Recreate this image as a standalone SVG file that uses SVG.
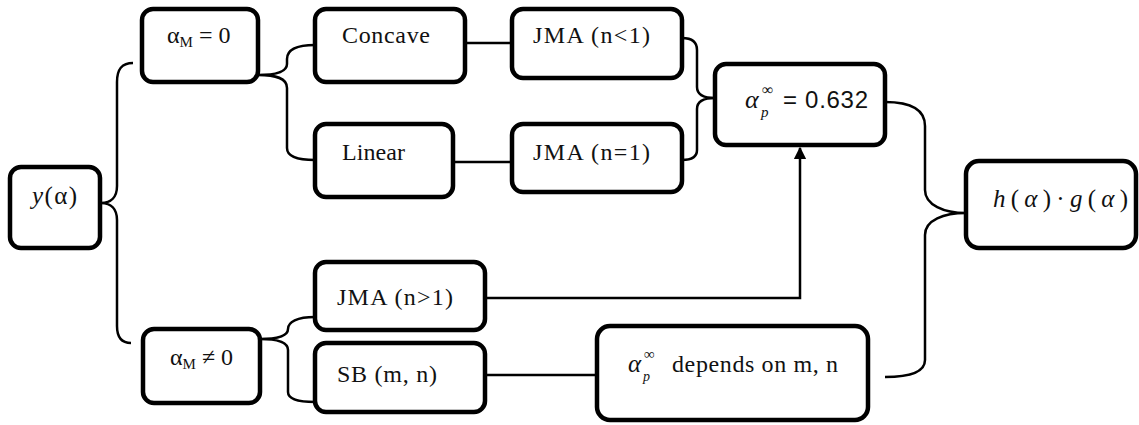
<svg xmlns="http://www.w3.org/2000/svg" width="1139" height="425" viewBox="0 0 1139 425">
<style>
.box{fill:#fff;stroke:#000;stroke-width:4.5}
.c{fill:none;stroke:#000;stroke-width:2.5}
.t{font-family:"Liberation Serif","DejaVu Serif","Times New Roman",serif;fill:#111}
.sans{font-family:"Liberation Sans",Arial,sans-serif}
.it{font-style:italic}
</style>
<defs>
<marker id="ah" viewBox="0 0 10 10" refX="9" refY="5" markerWidth="5" markerHeight="5" orient="auto" markerUnits="strokeWidth">
<path d="M0,0 L10,5 L0,10 z" fill="#000"/>
</marker>
</defs>
<rect width="1139" height="425" fill="#fff"/>
<g id="connectors">
<path class="c" d="M133,63 C121,63 117,70 117,82 L117,186 C117,197 111,203 101,203 C111,203 117,209 117,220 L117,326 C117,337 122,343 131,343"/>
<path class="c" d="M315,45 C296,45 287,50 287,59 L287,64 C287,72 276,75 258,75 C276,75 287,78 287,88 L287,148 C287,156 296,160 315,160"/>
<path class="c" d="M315,317 C297,317 288,322 288,329 C288,336 278,339 260,339 C278,339 288,342 288,350 L288,392 C288,399 297,402 315,402"/>
<line class="c" x1="465" y1="43" x2="512" y2="43"/>
<line class="c" x1="453" y1="162" x2="512" y2="162"/>
<path class="c" d="M682,38 C692,38 697,42 697,50 L697,87 C697,95 704,98 715,98 C704,98 697,101 697,109 L697,150 C697,157 692,160 682,160"/>
<path class="c" d="M485,298 L800,298 L800,148" marker-end="url(#ah)"/>
<line class="c" x1="485" y1="375" x2="597" y2="375"/>
<path class="c" d="M885,102 C915,102 925,112 925,126 L925,190 C925,205 944,213 966,213 C944,213 925,220 925,235 L925,360 C925,372 910,377 885,377"/>
</g>
<g id="n-y">
<rect class="box" x="10" y="167" width="90" height="81" rx="11"/>
<text class="t" x="32" y="204" font-size="25" textLength="45"><tspan class="it">y</tspan>(α)</text>
</g>
<g id="n-am0">
<rect class="box" x="142" y="9" width="116" height="73" rx="11"/>
<text class="t" x="167" y="43" font-size="24">α<tspan font-size="15" dy="4">M</tspan><tspan dy="-4"> = 0</tspan></text>
</g>
<g id="n-amn0">
<rect class="box" x="143" y="329" width="117" height="74" rx="11"/>
<text class="t" x="170" y="365" font-size="24">α<tspan font-size="15" dy="4">M</tspan><tspan dy="-4"> ≠ 0</tspan></text>
</g>
<g id="n-concave">
<rect class="box" x="315" y="9" width="150" height="73" rx="11"/>
<text class="t" x="342" y="43" font-size="24" textLength="88">Concave</text>
</g>
<g id="n-linear">
<rect class="box" x="315" y="124" width="138" height="73" rx="11"/>
<text class="t" x="342" y="160" font-size="24" textLength="63">Linear</text>
</g>
<g id="n-jma1">
<rect class="box" x="512" y="9" width="170" height="69" rx="11"/>
<text class="t" x="533" y="43" font-size="24" textLength="117">JMA (n&lt;1)</text>
</g>
<g id="n-jma2">
<rect class="box" x="512" y="124" width="170" height="68" rx="11"/>
<text class="t" x="533" y="160" font-size="24" textLength="117">JMA (n=1)</text>
</g>
<g id="n-jma3">
<rect class="box" x="315" y="262" width="170" height="68" rx="11"/>
<text class="t" x="337" y="305" font-size="24" textLength="116">JMA (n&gt;1)</text>
</g>
<g id="n-sb">
<rect class="box" x="315" y="343" width="170" height="69" rx="11"/>
<text class="t" x="337" y="382" font-size="24" textLength="100">SB (m, n)</text>
</g>
<g id="n-632">
<rect class="box" x="715" y="64" width="170" height="81" rx="11"/>
<text class="t it" x="745" y="108" font-size="26">α</text>
<text class="t" x="762" y="95" font-size="16">∞</text>
<text class="t it" x="761" y="117" font-size="15">p</text>
<text class="t sans" x="783" y="108" font-size="24" textLength="85">= 0.632</text>
</g>
<g id="n-dep">
<rect class="box" x="597" y="326" width="271" height="94" rx="13"/>
<text class="t it" x="628" y="372" font-size="25">α</text>
<text class="t" x="644" y="359" font-size="15">∞</text>
<text class="t it" x="643" y="381" font-size="14">p</text>
<text class="t" x="672" y="372" font-size="24" textLength="166">depends on m, n</text>
</g>
<g id="n-hg">
<rect class="box" x="966" y="161" width="170" height="87" rx="13"/>
<text class="t" x="993" y="207" font-size="25" textLength="135"><tspan class="it">h</tspan>(<tspan class="it">α</tspan>)·<tspan class="it">g</tspan>(<tspan class="it">α</tspan>)</text>
</g>
</svg>
